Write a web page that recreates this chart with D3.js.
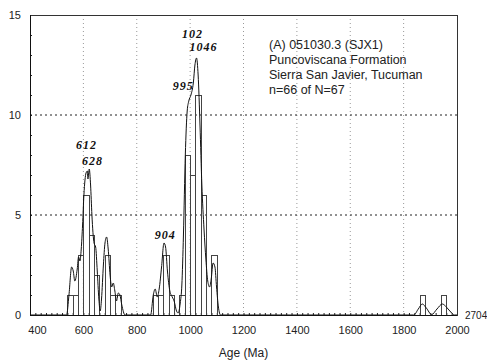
<!DOCTYPE html>
<html>
<head>
<meta charset="utf-8">
<script src="https://cdn.jsdelivr.net/npm/d3@7"></script>
<style>
  body { margin: 0; background: #fff; }
  svg { display: block; font-family: "Liberation Sans", Arial, sans-serif; }
</style>
</head>
<body>
<div id="chart"></div>
<script>
// histogram bins (20 Ma wide) and counts
const binStarts = [540, 560, 580, 600, 620, 640, 680, 700, 720,
                   860, 880, 900, 920, 960, 980, 1000, 1020, 1040, 1080,
                   1860, 1940];
const binCounts = [1, 1, 3, 6, 4, 2, 3, 1, 1,
                   1, 1, 3, 1, 1, 8, 7, 11, 6, 3,
                   1, 1];
const binWidth = 20;

// probability density curve (scaled to counts)
const curveAges = [400, 537, 546, 556, 562, 568, 577, 582, 587, 592, 597, 602, 610, 615, 617, 622, 627, 632, 640, 646,
                   652, 658, 663, 668, 675, 681, 687, 693, 700, 706, 712, 718, 724, 731, 737, 744, 756,
                   852, 862, 869, 877, 884, 893, 902, 908, 915, 924, 933, 940, 949, 955, 963, 969, 975, 982,
                   989, 995, 1003, 1012, 1018, 1024, 1030, 1037, 1044, 1052, 1059, 1066, 1073, 1079, 1086,
                   1093, 1099, 1106, 1114,
                   1838, 1855, 1870, 1885, 1905, 1925, 1945, 1960, 1980, 1990, 2000];
const curveVals = [0, 0, 1.0, 2.4, 2.2, 1.7, 2.3, 2.9, 2.7, 3.3, 4.5, 6.0, 7.1, 7.2, 6.8, 7.3, 6.5, 5.0, 3.6, 3.4,
                   2.2, 0.8, 0.2, 0.8, 2.5, 3.6, 3.9, 3.3, 2.0, 1.4, 1.6, 1.2, 0.7, 1.1, 1.0, 0.5, 0,
                   0, 1.0, 1.3, 0.9, 1.3, 2.4, 3.6, 3.4, 2.2, 1.2, 0.9, 0.7, 0.2, 0.1, 0.6, 1.5, 4.0, 8.0,
                   10.2, 10.7, 11.0, 11.6, 12.5, 12.85, 12.0, 9.5, 6.5, 4.3, 2.8, 1.7, 1.4, 1.8, 2.6,
                   2.4, 1.4, 0.4, 0,
                   0, 0.3, 0.55, 0.35, 0.02, 0.3, 0.55, 0.4, 0.1, 0, 0];

// peak labels and where they sit (Ma, count units)
const peakLabels = ["612", "628", "904", "995", "102", "1046"];
const peakLabelAges = [612, 634, 907, 974, 1009, 1050];
const peakLabelVals = [8.5, 7.7, 4.0, 11.45, 14.05, 13.4];

const infoLines = ["(A) 051030.3 (SJX1)", "Puncoviscana Formation", "Sierra San Javier, Tucuman", "n=66 of N=67"];

const xTicks = [400, 600, 800, 1000, 1200, 1400, 1600, 1800, 2000];
const yTicks = [0, 5, 10, 15];
const xDomain = [400, 2000];
const yDomain = [0, 15];
const maxAgeNote = "2704";
const xTitle = "Age (Ma)";

const W = 487, H = 360;
const margin = { top: 15, right: 30, bottom: 45, left: 30 };
const iw = W - margin.left - margin.right;
const ih = H - margin.top - margin.bottom;

const svg = d3.select("#chart").append("svg").attr("width", W).attr("height", H);
const g = svg.append("g").attr("transform", `translate(${margin.left},${margin.top})`);

const x = d3.scaleLinear().domain(xDomain).range([0, iw]);
const y = d3.scaleLinear().domain(yDomain).range([ih, 0]);

// grid
g.append("g").selectAll("line").data(xTicks.slice(1, -1)).join("line")
  .attr("x1", d => x(d)).attr("x2", d => x(d)).attr("y1", 0).attr("y2", ih)
  .attr("stroke", "#999").attr("stroke-dasharray", "1,3");
g.append("g").selectAll("line").data(yTicks.slice(1, -1)).join("line")
  .attr("x1", 0).attr("x2", iw).attr("y1", d => y(d)).attr("y2", d => y(d))
  .attr("stroke", "#222").attr("stroke-dasharray", "2,3");

// minor ticks
g.append("g").selectAll("line").data(d3.range(xDomain[0], xDomain[1], 20)).join("line")
  .attr("x1", d => x(d) + 0.5).attr("x2", d => x(d) + 0.5).attr("y1", ih).attr("y2", ih - 2)
  .attr("stroke", "#222");
g.append("g").selectAll("line").data(d3.range(yDomain[0], yDomain[1], 1)).join("line")
  .attr("x1", 0).attr("x2", 2).attr("y1", d => Math.round(y(d)) + 0.5).attr("y2", d => Math.round(y(d)) + 0.5)
  .attr("stroke", "#222");

// bars
g.append("g").selectAll("rect").data(binStarts.map((s, i) => ({ s, c: binCounts[i] }))).join("rect")
  .attr("x", d => Math.round(x(d.s)) + 0.5)
  .attr("width", d => Math.round(x(d.s + binWidth)) - Math.round(x(d.s)))
  .attr("y", d => Math.round(y(d.c)) + 0.5)
  .attr("height", d => Math.round(y(0)) - Math.round(y(d.c)))
  .attr("fill", "none").attr("stroke", "#444").attr("stroke-width", 1);

// density curve
const line = d3.line().x(d => x(d[0])).y(d => y(d[1])).curve(d3.curveMonotoneX);
g.append("path").attr("d", line(curveAges.map((a, i) => [a, curveVals[i]])))
  .attr("fill", "none").attr("stroke", "#111").attr("stroke-width", 1);

// frame + axes
g.append("rect").attr("x", 0.5).attr("y", 0.5).attr("width", iw).attr("height", ih)
  .attr("fill", "none").attr("stroke", "#333");
g.append("line").attr("x1", 0).attr("x2", iw).attr("y1", ih + 0.5).attr("y2", ih + 0.5).attr("stroke", "#111");
g.append("line").attr("x1", 0.5).attr("x2", 0.5).attr("y1", 0).attr("y2", ih).attr("stroke", "#111");

const gx = g.append("g").attr("transform", `translate(0,${ih})`)
  .call(d3.axisBottom(x).tickValues(xTicks).tickSize(0).tickPadding(11).tickFormat(d3.format("d")));
gx.select(".domain").remove();
gx.selectAll("text").attr("font-size", 11).attr("fill", "#222").attr("font-family", "Liberation Sans, Arial, sans-serif");
gx.selectAll("text").filter(d => d === 400).attr("dx", 7);

const gy = g.append("g")
  .call(d3.axisLeft(y).tickValues(yTicks).tickSize(0).tickPadding(9));
gy.select(".domain").remove();
gy.selectAll("text").attr("font-size", 11).attr("fill", "#222").attr("font-family", "Liberation Sans, Arial, sans-serif");

g.append("text").attr("x", iw / 2).attr("y", ih + 42).attr("text-anchor", "middle")
  .attr("font-size", 12).attr("fill", "#222").text(xTitle);

g.append("text").attr("x", iw + 8).attr("y", ih).attr("dy", "0.35em")
  .attr("font-size", 10).attr("fill", "#222").text(maxAgeNote);

// peak labels
g.append("g").selectAll("text").data(peakLabels).join("text")
  .attr("x", (d, i) => x(peakLabelAges[i])).attr("y", (d, i) => y(peakLabelVals[i]))
  .attr("dy", "0.35em").attr("text-anchor", "middle")
  .attr("font-family", "Liberation Serif, Times New Roman, serif")
  .attr("font-style", "italic").attr("font-weight", "bold").attr("font-size", 12)
  .attr("letter-spacing", 1).attr("fill", "#111").text(d => d);

// info block
g.append("g").selectAll("text").data(infoLines).join("text")
  .attr("x", 239).attr("y", (d, i) => 30 + i * 15 + 4)
  .attr("font-size", 12.5).attr("fill", "#222").text(d => d);
</script>
</body>
</html>
